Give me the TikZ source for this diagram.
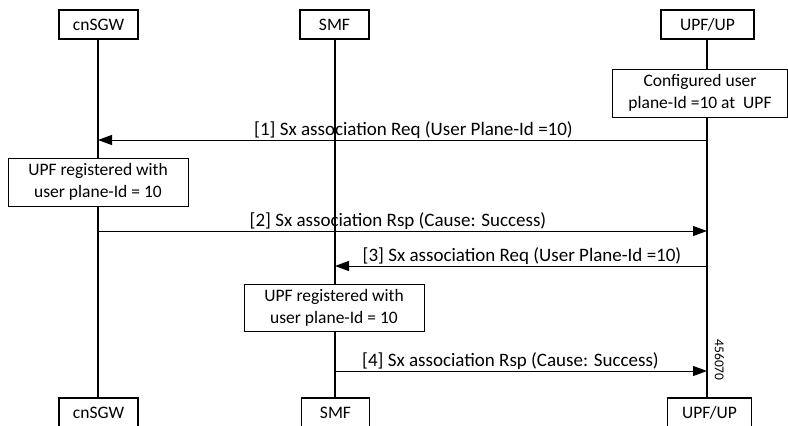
\documentclass[tikz,border=0pt]{standalone}
\usepackage{fontspec}
\setmainfont{Carlito}
\usetikzlibrary{arrows.meta}
\begin{document}
\begin{tikzpicture}[x=1pt,y=-1pt,
  actor/.style={draw,line width=1.5pt,minimum height=29pt,inner sep=0pt,font=\fontsize{17.5}{21.5}\selectfont},
  note/.style={draw,line width=1pt,fill=white,inner sep=0pt,align=center,font=\fontsize{17.5}{21.7}\selectfont},
  life/.style={line width=1.6pt},
  msg/.style={line width=0.9pt,-{Triangle[length=14pt,width=10pt]}},
  lbl/.style={font=\fontsize{19}{22}\selectfont,inner sep=0pt,anchor=base}
]
\useasboundingbox (0,0) rectangle (788,426);
% actors
\node[actor,minimum width=79pt] (sgwT) at (98.5,24.5) {cnSGW};
\node[actor,minimum width=69pt] (smfT) at (334.5,24.5) {SMF};
\node[actor,minimum width=93pt] (upfT) at (707.5,24.5) {UPF/UP};
\node[actor,minimum width=79pt] (sgwB) at (98.5,412.5) {cnSGW};
\node[actor,minimum width=68pt] (smfB) at (335.5,412.5) {SMF};
\node[actor,minimum width=84pt] (upfB) at (709.5,412.5) {UPF/UP};
% lifelines
\coordinate (xs) at (98,0);
\coordinate (xm) at (335,0);
\coordinate (xu) at (707,0);
\draw[life] (sgwT.south -| xs) -- (sgwB.north -| xs);
\draw[life] (smfT.south -| xm) -- (smfB.north -| xm);
\draw[life] (upfT.south -| xu) -- (upfB.north -| xu);
% notes
\node[note,minimum width=175pt,minimum height=48pt] (n1) at (700,93) {Configured user\\plane-Id =10 at\ \ UPF};
\node[note,minimum width=180pt,minimum height=48pt] (n2) at (98,182) {UPF registered with\\user plane-Id = 10};
\node[note,minimum width=180pt,minimum height=47pt] (n3) at (334,307.5) {UPF registered with\\user plane-Id = 10};
% messages
\coordinate (u1) at (707,140); \coordinate (s1) at (98,140);
\coordinate (s2) at (98,231); \coordinate (u2) at (707,231);
\coordinate (u3) at (707,266); \coordinate (m3) at (335,266);
\coordinate (m4) at (335,371); \coordinate (u4) at (707,371);
\draw[msg] (u1) -- (s1);
\draw[msg] (s2) -- (u2);
\draw[msg] (u3) -- (m3);
\draw[msg] (m4) -- (u4);
\node[lbl] (l1) at (413.5,135) {[1] Sx association Req (User Plane-Id =10)};
\node[lbl] (l2) at (398,226) {[2] Sx association Rsp (Cause: Success)};
\node[lbl] (l3) at (522,261) {[3] Sx association Req (User Plane-Id =10)};
\node[lbl] (l4) at (510.5,366) {[4] Sx association Rsp (Cause: Success)};
\node[rotate=-90,inner sep=0pt,font=\fontsize{13.5}{15}\selectfont] (id) at (719.5,360) {456070};
\end{tikzpicture}
\end{document}
